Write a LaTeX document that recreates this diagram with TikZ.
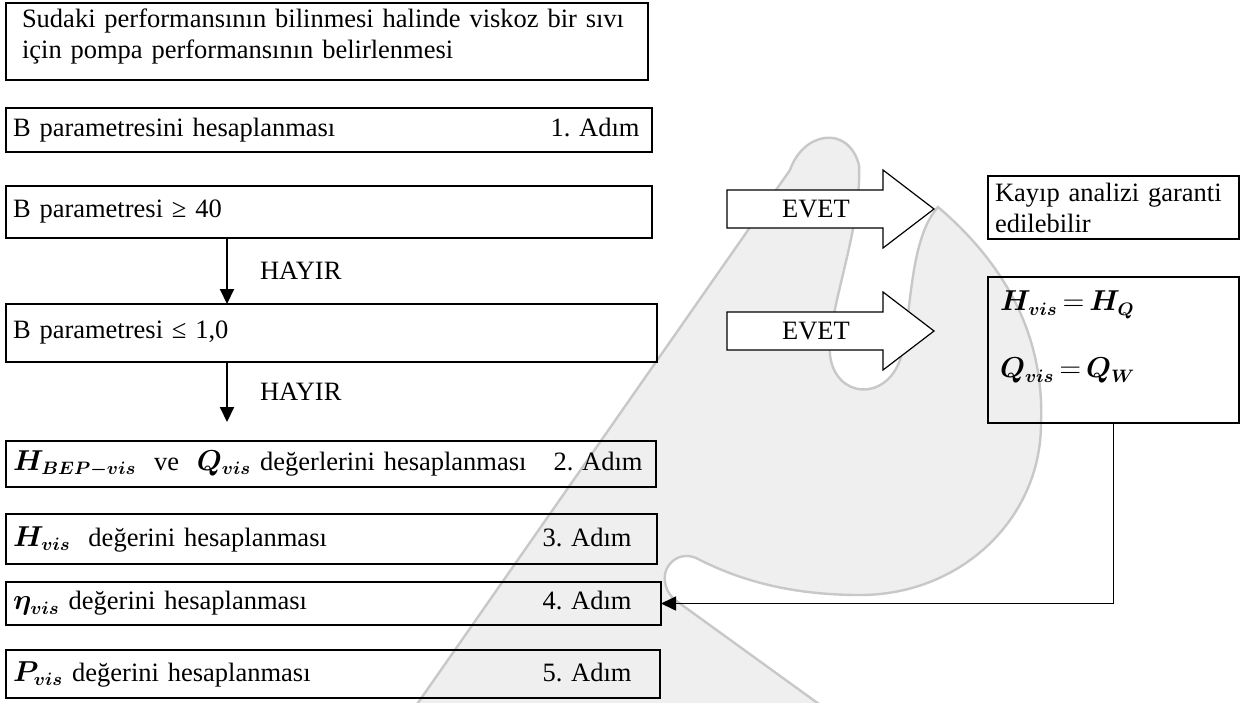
\documentclass[tikz,border=0pt]{standalone}
\usepackage{amsmath,bm}
\usepackage{fontspec}
\setmainfont{Liberation Serif}
\usepackage{tikz}
\usepackage{xcolor}
\usetikzlibrary{positioning,arrows.meta}
\definecolor{wmfill}{HTML}{EFEFEF}
\definecolor{wmline}{HTML}{C8C8C8}

\begin{document}
\begin{tikzpicture}[
  x=0.5pt, y=-0.5pt,
  >={Triangle[length=7.5pt,width=7pt]},
  font=\fontsize{13.25}{15.5}\selectfont,
  box/.style={rectangle, draw=black, line width=1.2pt, anchor=north west, align=left, inner xsep=3.5pt, inner ysep=0pt, outer sep=0pt},
  adim/.style={anchor=base east, inner sep=0pt},
  blockarr/.style={draw=black, line width=0.6pt, fill=white, line join=miter},
  evettxt/.style={inner sep=0pt},
  hayir/.style={right=16pt, inner sep=0pt},
  flow/.style={->, line width=1pt},
  back/.style={->, line width=0.8pt}
]
\useasboundingbox (0,0) rectangle (1245,702);

% watermark
\begin{scope}
\clip (0,0) rectangle (1245,702);
\filldraw[fill=wmfill, draw=wmline, line width=1.2pt]
  (406,720) -- (790,170)
  .. controls (803,132) and (848,124) .. (859,165)
  .. controls (862,230) and (826,315) .. (830,355)
  .. controls (835,398) and (885,402) .. (900,360)
  .. controls (912,320) and (908,240) .. (938,207)
  .. controls (1000,260) and (1045,330) .. (1041,425)
  .. controls (1040,520) and (960,595) .. (860,595)
  .. controls (790,595) and (740,580) .. (700,560)
  .. controls (680,548) and (662,565) .. (665,582)
  .. controls (667,595) and (675,600) .. (682,605)
  -- (841,720) -- cycle;
\end{scope}

\node[box, text width=305pt, inner xsep=8pt, minimum height=38.5pt] (b0) at (6,3) {Sudaki performansının bilinmesi halinde viskoz bir sıvı\\için pompa performansının belirlenmesi\\[-8pt]\mbox{}};
\node[box, text width=316pt, minimum height=22pt] (b1) at (6,108) {B parametresini hesaplanması};
\node[box, text width=316pt, minimum height=26pt] (b2) at (6,186) {B parametresi ≥ 40};
\node[box, text width=318.5pt, minimum height=29pt] (b3) at (6,304) {B parametresi ≤ 1,0};
\node[box, text width=318pt, minimum height=23pt] (b4) at (6,441) {$\bm{H_{BEP-vis}}$\ \ ve\ \ $\bm{Q_{vis}}$ değerlerini hesaplanması};
\node[box, text width=318.5pt, minimum height=25pt] (b5) at (6,514) {$\bm{H_{vis}}$\ \ değerini hesaplanması};
\node[box, text width=320.5pt, minimum height=21.5pt] (b6) at (6,582) {$\bm{\eta_{vis}}$\ değerini hesaplanması};
\node[box, text width=320pt, minimum height=24pt] (b7) at (6,650) {$\bm{P_{vis}}$\ değerini hesaplanması};

\coordinate (x1) at (640,0);
\coordinate (x2) at (643,0);
\coordinate (x3) at (632,0);
\node[adim] (s1) at (b1.base -| x1) {1. Adım};
\node[adim] (s2) at (b4.base -| x2) {2. Adım};
\node[adim] (s3) at (b5.base -| x3) {3. Adım};
\node[adim] (s4) at (b6.base -| x3) {4. Adım};
\node[adim] (s5) at (b7.base -| x3) {5. Adım};

\coordinate (ax) at (227,0);
\coordinate (a2end) at (227,422);
\draw[flow] (b2.south -| ax) -- node[hayir] (h1) {HAYIR} (b3.north -| ax);
\draw[flow] (b3.south -| ax) -- node[hayir] (h2) {HAYIR} (a2end);

\draw[blockarr] (727,190) -- (883,190) -- (883,170) -- (934,209) -- (883,248) -- (883,228) -- (727,228) -- cycle;
\node[evettxt] (e1) at (816,209) {EVET};
\draw[blockarr] (727,312) -- (883,312) -- (883,292) -- (934,331) -- (883,370) -- (883,350) -- (727,350) -- cycle;
\node[evettxt] (e2) at (816,331) {EVET};

\node[box, text width=118.5pt, minimum height=31.5pt] (kayip) at (988,176) {Kayıp analizi garanti\\edilebilir};
\node[box, text width=113.5pt, inner xsep=6pt, minimum height=73pt] (hq) at (988,277) {$\bm{H_{vis}}\,{=}\,\bm{H_Q}$\\[18pt]$\bm{Q_{vis}}\,{=}\,\bm{Q_W}$\\\mbox{}};

\draw[back] (hq.south) |- (b6.east);
\end{tikzpicture}
\end{document}
